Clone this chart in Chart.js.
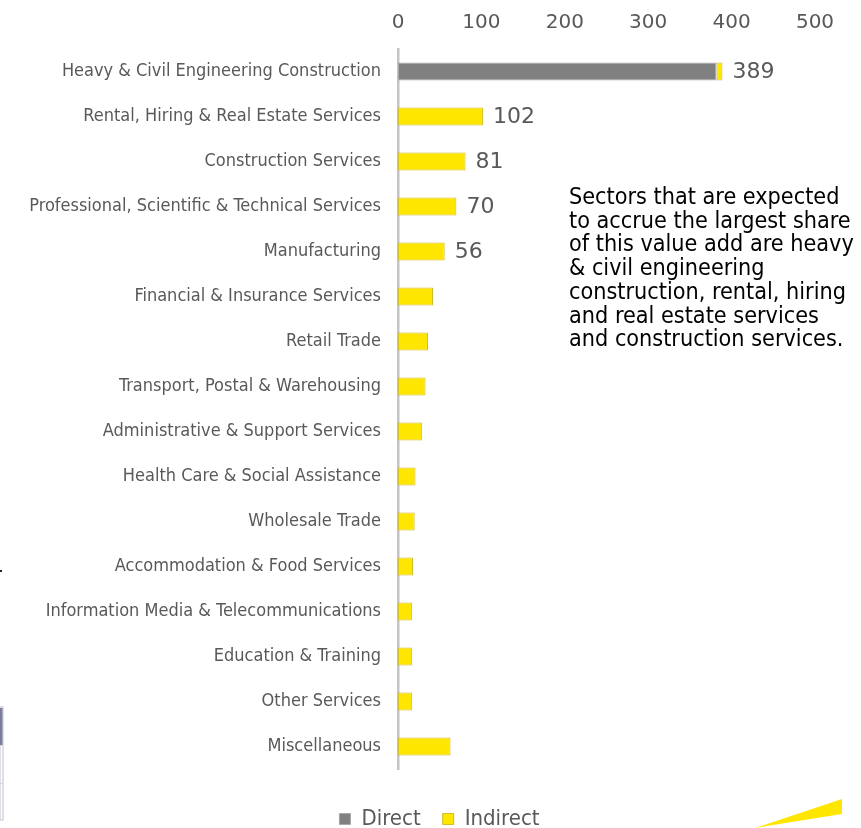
<!DOCTYPE html>
<html>
<head>
<meta charset="utf-8">
<script src="https://cdn.jsdelivr.net/npm/chart.js@4.4.1/dist/chart.umd.min.js"></script>
<style>
  html, body { margin: 0; padding: 0; background: #fff; }
  #wrap { position: relative; width: 861px; height: 828px; overflow: hidden; }
  #chart { position: absolute; left: 0; top: 0; }
  #note {
    position: absolute; left: 569px; top: 184px; width: 292px;
    font-family: "DejaVu Sans Condensed", "DejaVu Sans", sans-serif;
    font-stretch: condensed;
    font-size: 23.2px; line-height: 23.7px; color: #000;
    white-space: nowrap;
  }
  #deco { position: absolute; left: 0; top: 0; pointer-events: none; }
</style>
</head>
<body>
<div id="wrap">
  <canvas id="chart" width="861" height="828"></canvas>
  <div id="note">Sectors that are expected<br>to accrue the largest share<br>of this value add are heavy<br>&amp; civil engineering<br>construction, rental, hiring<br>and real estate services<br>and construction services.</div>
  <svg id="deco" width="861" height="828">
    <!-- bits of the neighbouring table and the brand slash -->
    <rect x="0" y="707" width="3" height="113" fill="none" stroke="#d4d4de" stroke-width="1.5"/>
    <rect x="0" y="708" width="2.5" height="37" fill="#7c7c9c"/>
    <line x1="0" y1="745.5" x2="3" y2="745.5" stroke="#d4d4de"/>
    <line x1="0" y1="783.5" x2="3" y2="783.5" stroke="#d4d4de"/>
    <rect x="0" y="570" width="2" height="2" fill="#222"/>
    <polygon points="755,828 842,799 842,814" fill="#ffe600"/>
  </svg>
</div>
<script>
// sectors, top to bottom
const categories = [
  'Heavy & Civil Engineering Construction',
  'Rental, Hiring & Real Estate Services',
  'Construction Services',
  'Professional, Scientific & Technical Services',
  'Manufacturing',
  'Financial & Insurance Services',
  'Retail Trade',
  'Transport, Postal & Warehousing',
  'Administrative & Support Services',
  'Health Care & Social Assistance',
  'Wholesale Trade',
  'Accommodation & Food Services',
  'Information Media & Telecommunications',
  'Education & Training',
  'Other Services',
  'Miscellaneous'
];
const direct   = [382, 0, 0, 0, 0, 0, 0, 0, 0, 0, 0, 0, 0, 0, 0, 0];
const indirect = [7, 102, 81, 70, 56, 42, 36, 33, 29, 21, 20, 18, 17, 17, 17, 63];
const xTicks = [0, 100, 200, 300, 400, 500];
// only the first few rows carry a total label
const labelledRows = 5;

const greyText = '#595959';

// totals written just past the end of each labelled bar
const totalLabels = {
  id: 'totalLabels',
  afterDatasetsDraw(chart) {
    const ctx = chart.ctx;
    const meta = chart.getDatasetMeta(1);
    ctx.save();
    ctx.font = '22px "DejaVu Sans"';
    ctx.fillStyle = greyText;
    ctx.textAlign = 'left';
    ctx.textBaseline = 'middle';
    for (let i = 0; i < labelledRows; i++) {
      const bar = meta.data[i];
      const total = direct[i] + indirect[i];
      ctx.fillText(String(total), bar.x + 10, bar.y + 1);
    }
    ctx.restore();
  }
};

// push the legend row down to the bottom edge
const legendNudge = {
  id: 'legendNudge',
  afterLayout(chart) {
    const lg = chart.legend;
    if (lg) { lg.top += 17; lg.bottom += 17; }
  }
};

new Chart(document.getElementById('chart'), {
  type: 'bar',
  data: {
    labels: categories,
    datasets: [
      {
        label: 'Direct',
        data: direct,
        backgroundColor: '#808080',
        borderColor: '#a8a8a8',
        borderWidth: 1,
        borderSkipped: false
      },
      {
        label: 'Indirect',
        data: indirect,
        backgroundColor: '#ffe600',
        borderColor: '#cfbd2a',
        borderWidth: 1,
        borderSkipped: false
      }
    ]
  },
  options: {
    indexAxis: 'y',
    responsive: false,
    animation: false,
    devicePixelRatio: 1,
    categoryPercentage: 1,
    barPercentage: 0.4,
    layout: { padding: { left: 18, right: 0, top: 0, bottom: 5 } },
    plugins: {
      tooltip: { enabled: false },
      legend: {
        position: 'bottom',
        labels: {
          boxWidth: 11,
          boxHeight: 11,
          padding: 22,
          color: greyText,
          font: { family: '"DejaVu Sans Condensed", "DejaVu Sans"', size: 22 }
        }
      }
    },
    scales: {
      x: {
        position: 'top',
        stacked: true,
        min: 0,
        max: 500,
        afterBuildTicks: s => { s.ticks = xTicks.map(v => ({ value: v })); },
        afterFit: s => { s.height = 49; },
        grid: { display: false, drawTicks: false },
        border: { display: false },
        ticks: {
          padding: 14,
          color: greyText,
          font: { family: '"DejaVu Sans"', size: 20 }
        }
      },
      y: {
        stacked: true,
        afterFit: s => { s.width = 380; },
        grid: { display: false, drawTicks: false },
        border: { display: true, color: '#c4c4c4', width: 2.5 },
        ticks: {
          padding: 17,
          color: greyText,
          font: { family: '"DejaVu Sans Condensed", "DejaVu Sans"', size: 18 }
        }
      },
      // empty strip on the right so the value axis stops short of the edge
      gutter: {
        type: 'category',
        position: 'right',
        afterFit: s => { s.width = 46; },
        grid: { display: false, drawTicks: false },
        border: { display: false },
        ticks: { display: false }
      }
    }
  },
  plugins: [totalLabels, legendNudge]
});
</script>
</body>
</html>
